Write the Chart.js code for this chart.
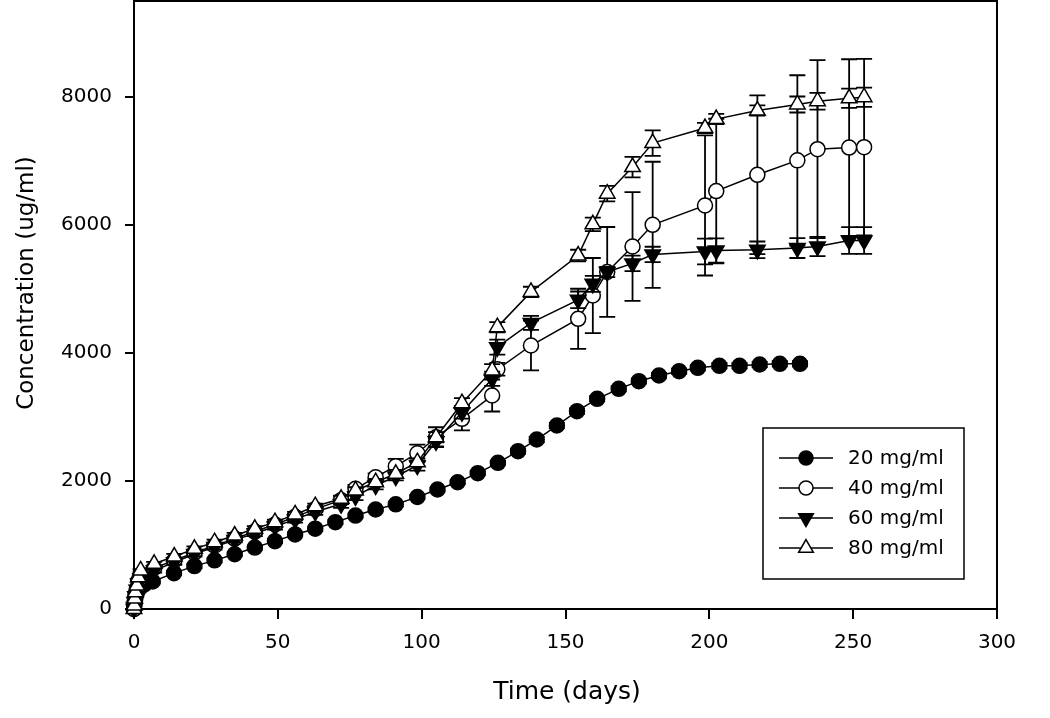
<!DOCTYPE html>
<html><head><meta charset="utf-8">
<script src="https://cdn.jsdelivr.net/npm/chart.js@4.4.1/dist/chart.umd.min.js"></script>
<style>html,body{margin:0;padding:0;background:#fff}canvas{display:block}</style>
</head><body>
<canvas id="c" width="1050" height="718"></canvas>
<script>
const xTicks = [0, 50, 100, 150, 200, 250, 300];
const yTicks = [0, 2000, 4000, 6000, 8000];
const seriesLabels = ['20 mg/ml', '40 mg/ml', '60 mg/ml', '80 mg/ml'];

const days20 = [0, 0.25, 0.5, 1, 2, 3.5, 6.5, 13.9, 21, 28, 35, 42, 49, 56, 63, 70, 77, 84, 91, 98.5, 105.5, 112.5, 119.5, 126.5, 133.5, 140, 147, 154, 161, 168.5, 175.5, 182.5, 189.5, 196, 203.5, 210.5, 217.5, 224.5, 231.5];
const conc20 = [0, 90, 170, 250, 330, 380, 430, 560, 670, 760, 855, 960, 1060, 1165, 1255, 1357, 1460, 1555, 1635, 1750, 1867, 1981, 2122, 2284, 2466, 2648, 2867, 3091, 3284, 3440, 3560, 3648, 3716, 3768, 3800, 3800, 3820, 3831, 3831];
const err20  = [0, 0, 0, 0, 20, 20, 30, 30, 30, 30, 30, 30, 30, 30, 30, 30, 30, 30, 30, 30, 30, 30, 30, 30, 40, 40, 40, 40, 40, 40, 40, 40, 40, 40, 40, 40, 40, 40, 40];

const daysHigh = [0, 0.1, 0.25, 0.5, 1, 1.5, 2.3, 7, 14, 21, 28, 35, 42, 49, 56, 63, 72, 77, 84, 91, 98.5, 105, 114, 124.5, 126.3, 138, 154.4, 159.5, 164.5, 173.3, 180.3, 198.5, 202.4, 216.7, 230.6, 237.6, 248.6, 253.8];
const conc40 = [0, 40, 130, 220, 320, 440, 530, 640, 760, 880, 990, 1100, 1210, 1320, 1440, 1560, 1700, 1878, 2059, 2231, 2434, 2684, 2972, 3336, 3745, 4117, 4534, 4898, 5266, 5664, 6003, 6305, 6530, 6784, 7010, 7185, 7210, 7216];
const err40  = [0, 0, 0, 0, 0, 0, 20, 30, 40, 40, 40, 40, 40, 50, 50, 50, 60, 60, 60, 115, 135, 156, 180, 250, 100, 390, 470, 586, 703, 850, 985, 1094, 1130, 1240, 1330, 1390, 1380, 1380];
const conc60 = [0, 30, 110, 200, 300, 400, 480, 600, 730, 860, 970, 1080, 1180, 1290, 1400, 1520, 1640, 1760, 1930, 2070, 2242, 2620, 3075, 3597, 4091, 4470, 4831, 5081, 5266, 5400, 5540, 5586, 5602, 5612, 5640, 5664, 5758, 5758];
const err60  = [0, 0, 0, 0, 0, 0, 20, 30, 40, 40, 40, 40, 40, 50, 50, 50, 60, 60, 60, 60, 80, 80, 100, 110, 117, 110, 130, 125, 80, 120, 120, 200, 190, 130, 156, 150, 210, 210];
const conc80 = [0, 55, 164, 262, 367, 497, 602, 706, 820, 940, 1044, 1148, 1253, 1357, 1477, 1606, 1722, 1852, 1981, 2113, 2294, 2684, 3216, 3727, 4403, 4955, 5523, 6010, 6490, 6905, 7280, 7515, 7655, 7789, 7883, 7934, 7980, 7997];
const err80  = [0, 0, 0, 0, 0, 0, 20, 30, 40, 40, 40, 40, 40, 40, 40, 40, 50, 50, 50, 60, 60, 80, 80, 100, 80, 80, 90, 105, 120, 160, 200, 80, 80, 80, 125, 130, 150, 150];

const FONT = "'DejaVu Sans', 'Liberation Sans', Arial, sans-serif";
const pts = (xs, ys) => xs.map((x, i) => ({x: x, y: ys[i]}));

const styles = [
  {pointStyle: 'circle', fill: '#000', radius: 7.5, rotation: 0},
  {pointStyle: 'circle', fill: '#fff', radius: 7.5, rotation: 0},
  {pointStyle: 'triangle', fill: '#000', radius: 9, rotation: 180},
  {pointStyle: 'triangle', fill: '#fff', radius: 9, rotation: 0}
];
const dataSets = [
  {xs: days20, ys: conc20, es: err20, order: 4},
  {xs: daysHigh, ys: conc40, es: err40, order: 3},
  {xs: daysHigh, ys: conc60, es: err60, order: 2},
  {xs: daysHigh, ys: conc80, es: err80, order: 1}
];

const datasets = dataSets.map((d, i) => ({
  label: seriesLabels[i],
  data: pts(d.xs, d.ys),
  errs: d.es,
  order: d.order,
  borderColor: '#000',
  borderWidth: 1.5,
  backgroundColor: styles[i].fill,
  pointStyle: styles[i].pointStyle,
  pointRotation: styles[i].rotation,
  pointRadius: styles[i].radius,
  pointBackgroundColor: styles[i].fill,
  pointBorderColor: '#000',
  pointBorderWidth: 1.5,
  tension: 0,
  fill: false,
  clip: false
}));

const errPlugin = {
  id: 'errbars',
  beforeDatasetDraw(chart, args) {
    const ds = chart.data.datasets[args.index];
    if (!ds.errs) return;
    const ys = chart.scales.y, ctx = chart.ctx;
    ctx.save();
    ctx.strokeStyle = '#000';
    ctx.lineWidth = 1.8;
    args.meta.data.forEach((pt, i) => {
      const e = ds.errs[i];
      if (!e) return;
      const v = ds.data[i].y;
      const yt = ys.getPixelForValue(v + e), yb = ys.getPixelForValue(v - e);
      ctx.beginPath();
      ctx.moveTo(pt.x, yt); ctx.lineTo(pt.x, yb);
      ctx.moveTo(pt.x - 8, yt); ctx.lineTo(pt.x + 8, yt);
      ctx.moveTo(pt.x - 8, yb); ctx.lineTo(pt.x + 8, yb);
      ctx.stroke();
    });
    ctx.restore();
  }
};

function marker(ctx, s, x, y, r) {
  ctx.beginPath();
  if (s.pointStyle === 'circle') {
    ctx.arc(x, y, r, 0, Math.PI * 2);
  } else {
    const rot = s.rotation * Math.PI / 180;
    for (let k = 0; k < 3; k++) {
      const a = rot + k * 2 * Math.PI / 3;
      const px = x + Math.sin(a) * r, py = y - Math.cos(a) * r;
      if (k === 0) ctx.moveTo(px, py); else ctx.lineTo(px, py);
    }
    ctx.closePath();
  }
  ctx.fillStyle = s.fill;
  ctx.fill();
  ctx.lineWidth = 1.5;
  ctx.strokeStyle = '#000';
  ctx.stroke();
}

const decorPlugin = {
  id: 'decor',
  afterDraw(chart) {
    const ctx = chart.ctx, a = chart.chartArea;
    ctx.save();
    ctx.strokeStyle = '#000';
    ctx.lineWidth = 2;
    ctx.beginPath();
    ctx.moveTo(a.left, a.top); ctx.lineTo(a.right, a.top); ctx.lineTo(a.right, a.bottom);
    ctx.stroke();
    ctx.fillStyle = '#000';
    ctx.textAlign = 'center';
    ctx.textBaseline = 'middle';
    ctx.font = '25px ' + FONT;
    ctx.fillText('Time (days)', 567, 692);
    ctx.save();
    ctx.translate(27, 283);
    ctx.rotate(-Math.PI / 2);
    ctx.font = '23px ' + FONT;
    ctx.fillText('Concentration (ug/ml)', 0, 0);
    ctx.restore();
    ctx.lineWidth = 1.5;
    ctx.strokeRect(763, 428, 201, 151);
    const rows = [458, 488, 518, 548];
    ctx.font = '20px ' + FONT;
    ctx.textAlign = 'left';
    seriesLabels.forEach((lab, i) => {
      const y = rows[i];
      ctx.beginPath();
      ctx.lineWidth = 1.5;
      ctx.strokeStyle = '#000';
      ctx.moveTo(779, y); ctx.lineTo(833, y);
      ctx.stroke();
      marker(ctx, styles[i], 806, y, styles[i].pointStyle === 'circle' ? 7 : 8.5);
      ctx.fillStyle = '#000';
      ctx.fillText(lab, 848, y + 1);
    });
    ctx.restore();
  }
};

new Chart(document.getElementById('c'), {
  type: 'line',
  data: {datasets: datasets},
  plugins: [errPlugin, decorPlugin],
  options: {
    responsive: false,
    animation: false,
    devicePixelRatio: 1,
    events: [],
    layout: {autoPadding: false, padding: {top: 1, right: 53, left: 0, bottom: 0}},
    plugins: {legend: {display: false}, tooltip: {enabled: false}},
    scales: {
      x: {
        type: 'linear', min: 0, max: 300,
        afterFit(s) { s.height = 109; s.paddingLeft = 0; s.paddingRight = 0; },
        afterBuildTicks(s) { s.ticks = xTicks.map(v => ({value: v})); },
        grid: {drawOnChartArea: false, drawTicks: true, tickLength: 10, color: '#000', lineWidth: 2},
        border: {display: true, color: '#000', width: 2},
        ticks: {color: '#000', font: {family: FONT, size: 20}, padding: 12, maxRotation: 0, callback: v => String(v)}
      },
      y: {
        type: 'linear', min: 0, max: 9500,
        afterFit(s) { s.width = 134; s.paddingTop = 0; s.paddingBottom = 0; },
        afterBuildTicks(s) { s.ticks = yTicks.map(v => ({value: v})); },
        grid: {drawOnChartArea: false, drawTicks: true, tickLength: 9, color: '#000', lineWidth: 2},
        border: {display: true, color: '#000', width: 2},
        ticks: {color: '#000', font: {family: FONT, size: 20}, padding: 13, callback: v => String(v)}
      }
    }
  }
});
</script>
</body></html>
